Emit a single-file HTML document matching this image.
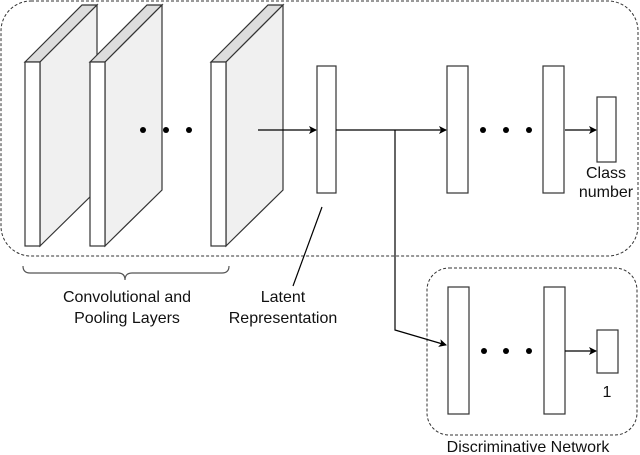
<!DOCTYPE html>
<html><head><style>body{margin:0;background:#fff}svg{display:block}</style></head><body>
<svg width="640" height="455" viewBox="0 0 640 455" xmlns="http://www.w3.org/2000/svg" font-family="Liberation Sans, sans-serif" font-size="16">
<defs><marker id="a" markerWidth="8" markerHeight="8" refX="7" refY="4" orient="auto" markerUnits="userSpaceOnUse"><path d="M0,0 L8,4 L0,8 L2,4 Z" fill="#000"/></marker></defs>
<rect x="1" y="1" width="637" height="255" rx="30" fill="none" stroke="#333" stroke-dasharray="3,2"/>
<rect x="427" y="268" width="210" height="167" rx="22" fill="none" stroke="#333" stroke-dasharray="3,2"/>
<g stroke="#333" stroke-width="1.2">
<g id="s"><polygon points="25,62 82,5 97,5 40,62" fill="#ddd"/><polygon points="40,62 97,5 97,190 40,246" fill="#f0f0f0"/><rect x="25" y="62" width="15" height="184" fill="#fff"/></g>
<use href="#s" x="65"/><use href="#s" x="186"/>
<rect x="317" y="66" width="19" height="127" fill="#fff"/>
<rect x="447" y="66" width="21" height="127" fill="#fff"/>
<rect x="543" y="66" width="21" height="127" fill="#fff"/>
<rect x="597" y="97" width="19" height="65" fill="#fff"/>
<rect x="448" y="287" width="21" height="127" fill="#fff"/>
<rect x="544" y="287" width="21" height="127" fill="#fff"/>
<rect x="597" y="330" width="21" height="43" fill="#fff"/>
</g>
<g stroke="#000" stroke-width="1.2" fill="none">
<line x1="258" y1="130" x2="316" y2="130" marker-end="url(#a)"/>
<line x1="336" y1="130" x2="446" y2="130" marker-end="url(#a)"/>
<polyline points="395,130 395,330 446,345" marker-end="url(#a)"/>
<line x1="565" y1="130" x2="596" y2="130" marker-end="url(#a)"/>
<line x1="565" y1="351" x2="596" y2="351" marker-end="url(#a)"/>
<line x1="322" y1="207" x2="293" y2="286"/>
<path d="M23,266 Q23,273 30,273 L118,273 Q125,273 125,280 Q125,273 132,273 L222,273 Q229,273 229,266" stroke="#555"/>
</g>
<g fill="#000"><circle cx="143" cy="130" r="3"/><circle cx="166" cy="130" r="3"/><circle cx="189" cy="130" r="3"/>
<circle cx="483" cy="130" r="3"/><circle cx="506" cy="130" r="3"/><circle cx="529" cy="130" r="3"/>
<circle cx="484" cy="351" r="3"/><circle cx="506" cy="351" r="3"/><circle cx="529" cy="351" r="3"/></g>
<g text-anchor="middle" fill="#111">
<text x="127" y="302">Convolutional and</text><text x="127" y="323">Pooling Layers</text>
<text x="283" y="302">Latent</text><text x="283" y="323">Representation</text>
<text x="606" y="178">Class</text><text x="606" y="197">number</text>
<text x="607" y="397">1</text>
<text x="528" y="452">Discriminative Network</text>
</g>
</svg>
</body></html>
